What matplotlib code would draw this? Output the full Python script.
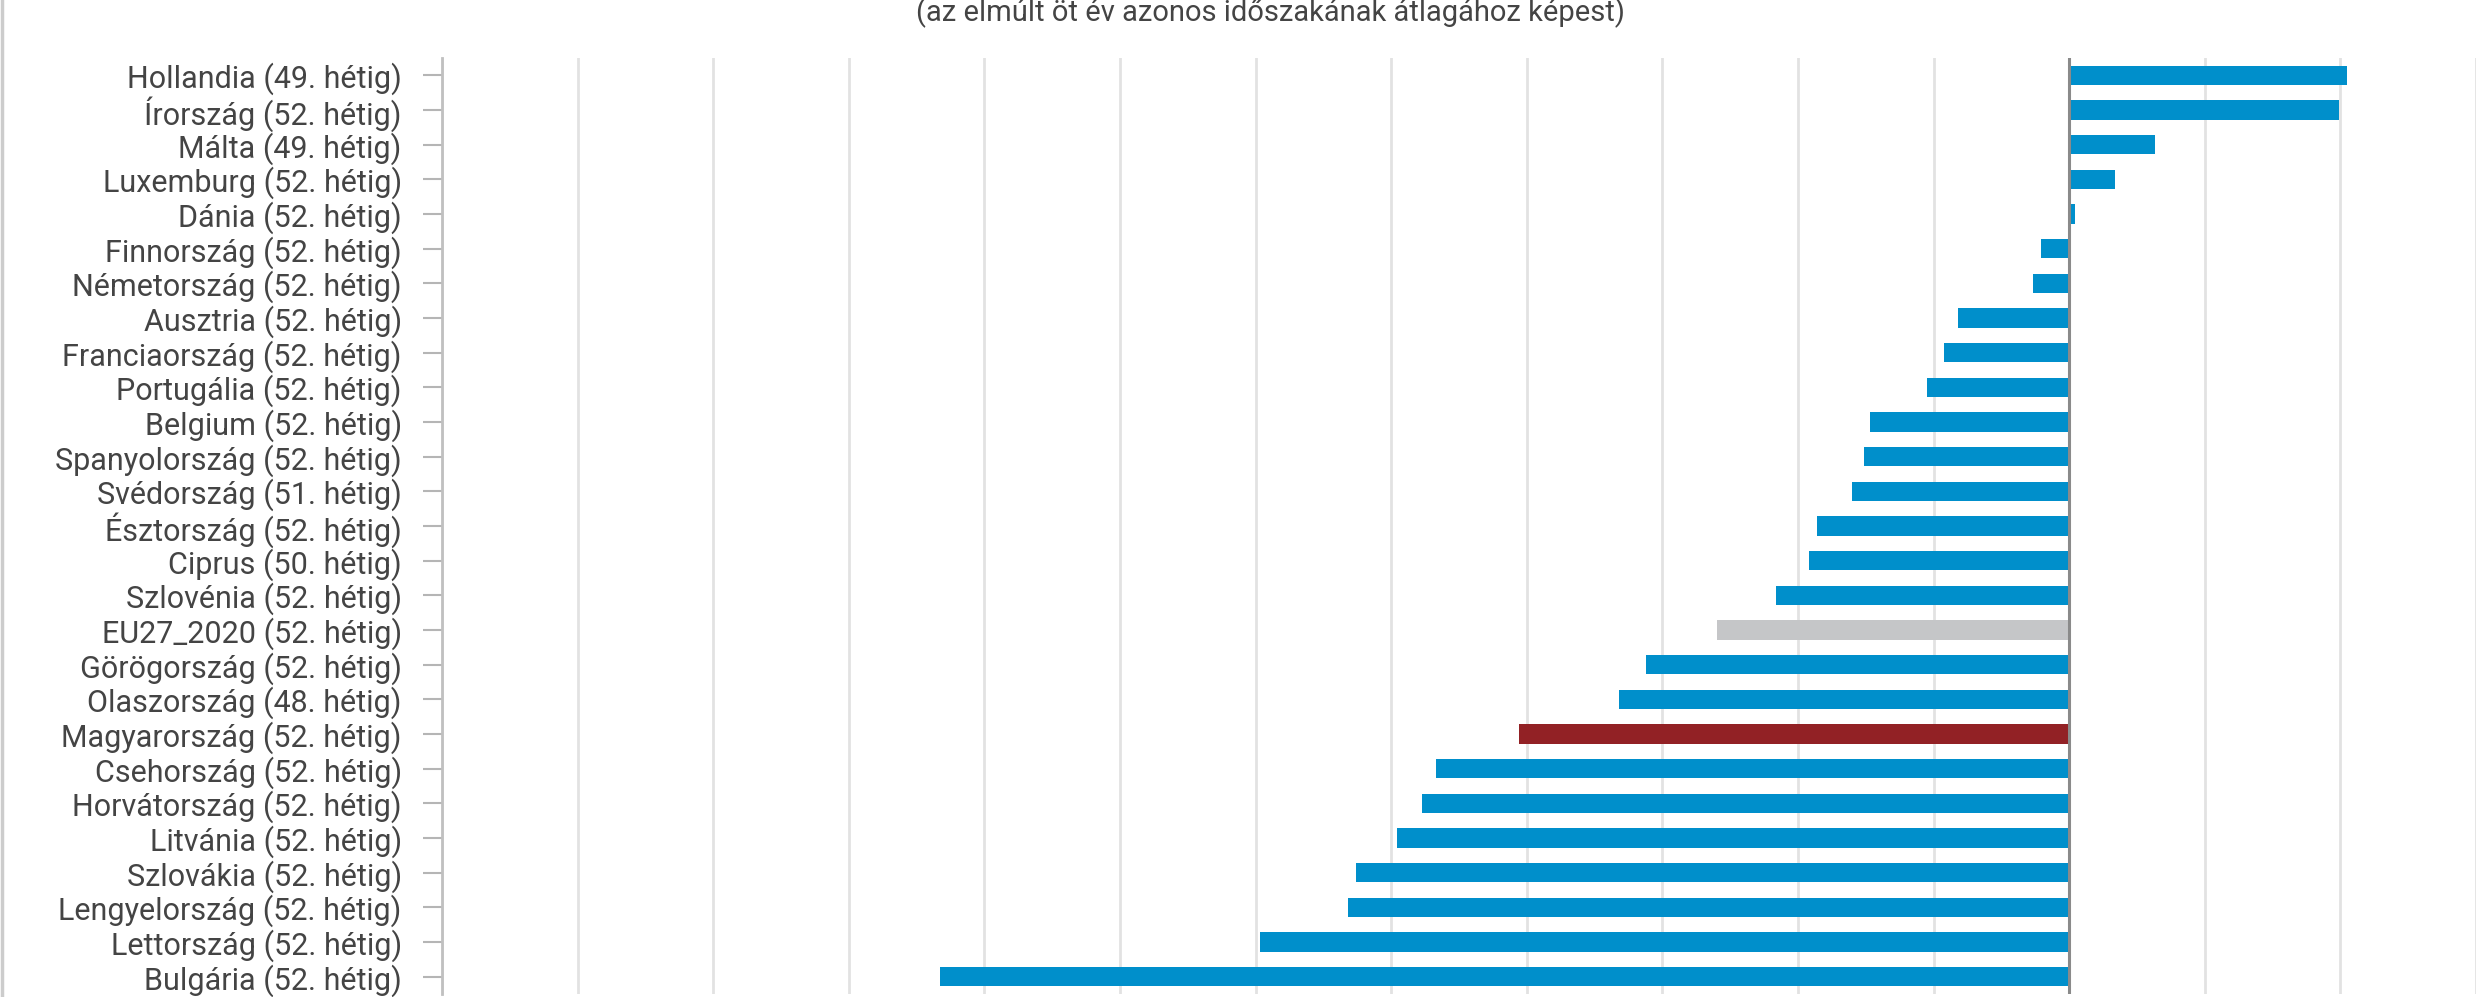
import numpy as np
import matplotlib
matplotlib.use("Agg")
import matplotlib.pyplot as plt
from matplotlib.lines import Line2D

plt.rcParams['font.family'] = ['Roboto', 'DejaVu Sans']

# országok, felülről lefelé
countries = [
    'Hollandia (49. hétig)', 'Írország (52. hétig)', 'Málta (49. hétig)',
    'Luxemburg (52. hétig)', 'Dánia (52. hétig)', 'Finnország (52. hétig)',
    'Németország (52. hétig)', 'Ausztria (52. hétig)', 'Franciaország (52. hétig)',
    'Portugália (52. hétig)', 'Belgium (52. hétig)', 'Spanyolország (52. hétig)',
    'Svédország (51. hétig)', 'Észtország (52. hétig)', 'Ciprus (50. hétig)',
    'Szlovénia (52. hétig)', 'EU27_2020 (52. hétig)', 'Görögország (52. hétig)',
    'Olaszország (48. hétig)', 'Magyarország (52. hétig)', 'Csehország (52. hétig)',
    'Horvátország (52. hétig)', 'Litvánia (52. hétig)', 'Szlovákia (52. hétig)',
    'Lengyelország (52. hétig)', 'Lettország (52. hétig)', 'Bulgária (52. hétig)',
]
values = [
    10.24, 9.95, 3.17, 1.70, 0.20, -1.05, -1.35, -4.10, -4.60, -5.25,
    -7.35, -7.55, -8.00, -9.30, -9.60, -10.80, -13.00, -15.60, -16.60,
    -20.30, -23.35, -23.85, -24.80, -26.30, -26.60, -29.85, -41.65,
]
subtitle = '(az elmúlt öt év azonos időszakának átlagához képest)'

BLUE = '#008fcb'
RED = '#922125'
GREY = '#c5c6c8'

colors = []
for c in countries:
    if c.startswith('Magyarország'):
        colors.append(RED)
    elif c.startswith('EU27'):
        colors.append(GREY)
    else:
        colors.append(BLUE)

W, H = 2476, 997
fig = plt.figure(figsize=(W / 100, H / 100), dpi=100)
ax = fig.add_axes([442 / W, 3 / H, 1 - 442 / W, 1 - 61 / H])

y = np.arange(len(countries))
ax.barh(y, values, height=0.55, color=colors, zorder=3)

ax.set_xlim(-60, 15)
ax.set_ylim(len(countries) - 0.5, -0.5)
ax.set_xticks(np.arange(-60, 16, 5))
ax.xaxis.grid(True, color='#e2e2e2', linewidth=2, zorder=0)
ax.tick_params(axis='x', length=0, labelbottom=False)
ax.axvline(0, color='#8a8a8a', linewidth=2.2, zorder=4)

ax.set_yticks(y)
ax.set_yticklabels(countries, fontsize=22, color='#444444')
ax.tick_params(axis='y', length=14, width=1.5, color='#b5b5b5', pad=15)

for s in ['top', 'right', 'bottom']:
    ax.spines[s].set_visible(False)
ax.spines['left'].set_color('#c0c0c0')
ax.spines['left'].set_linewidth(2)

fig.text(1270 / W, 1 - 21 / H, subtitle, ha='center', va='baseline',
         fontsize=21, color='#444444')

# keret bal oldalon
fig.add_artist(Line2D([1.5 / W, 1.5 / W], [0, 1], transform=fig.transFigure,
                      color='#cccccc', linewidth=2.5))

fig.savefig('out.png', dpi=100)
